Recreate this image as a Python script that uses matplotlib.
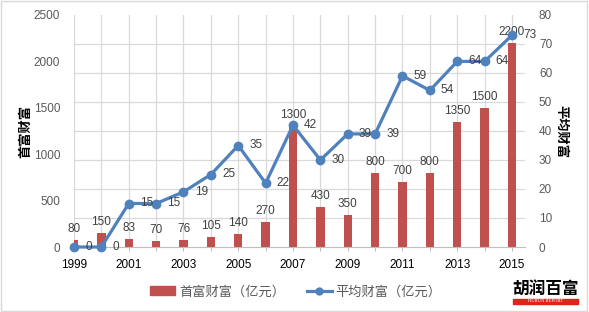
import matplotlib
matplotlib.use("Agg")
import matplotlib.pyplot as plt
from matplotlib.lines import Line2D
from matplotlib.patches import Patch, Rectangle

plt.rcParams["font.family"] = ["Liberation Sans", "Noto Sans CJK SC", "DejaVu Sans"]

# 数据 (胡润百富 1999-2015)
YEARS = list(range(1999, 2016))
TOP_WEALTH = [80, 150, 83, 70, 76, 105, 140, 270, 1300, 430, 350,
              800, 700, 800, 1350, 1500, 2200]
AVG_WEALTH = [0, 0, 15, 15, 19, 25, 35, 22, 42, 30, 39,
              39, 59, 54, 64, 64, 73]
LEFT_TICKS = [0, 500, 1000, 1500, 2000, 2500]
RIGHT_TICKS = [0, 10, 20, 30, 40, 50, 60, 70, 80]

COLOR_BAR = "#C0504D"
COLOR_LINE = "#4F81BD"
COLOR_GRID = "#D9D9D9"
COLOR_TICK = "#595959"
COLOR_LABEL = "#404040"

W, H = 589, 312
fig = plt.figure(figsize=(W / 100, H / 100), dpi=100)
ax = fig.add_axes([74 / W, 1 - 247 / H, (525 - 74) / W, (247 - 15) / H])
ax2 = ax.twinx()

# 柱: 首富财富 (左轴)
ax.bar(YEARS, TOP_WEALTH, width=0.31, color=COLOR_BAR, zorder=2)
for yr, v in zip(YEARS, TOP_WEALTH):
    ax.annotate(str(v), xy=(yr, v), xytext=(0, 3.5), textcoords="offset points",
                ha="center", va="bottom", fontsize=8.5, color=COLOR_LABEL,
                annotation_clip=False)

ax.set_xlim(1999, 2015.475)
ax.set_ylim(0, 2500)
ax.set_yticks(LEFT_TICKS)
ax.set_yticks([v * 2500 / 80 for v in RIGHT_TICKS], minor=True)
ax.tick_params(axis="y", which="both", length=0, labelsize=8.5,
               labelcolor=COLOR_TICK, pad=10)
ax.set_xticks(YEARS)
ax.set_xticklabels([str(y) if (y - 1999) % 2 == 0 else "" for y in YEARS])
ax.tick_params(axis="x", length=3, color="#BFBFBF", labelsize=8.5,
               labelcolor="black", pad=6)
ax.grid(True, which="minor", axis="y", color=COLOR_GRID, lw=0.9)
ax.grid(True, which="major", axis="x", color=COLOR_GRID, lw=0.9)
ax.set_axisbelow(True)
for side in ("top", "left", "right"):
    ax.spines[side].set_visible(False)
ax.spines["bottom"].set_color("#BFBFBF")

# 折线: 平均财富 (右轴)
ax2.plot(YEARS, AVG_WEALTH, color=COLOR_LINE, lw=2.3, marker="o",
         markersize=6, clip_on=False, zorder=3)
for yr, v in zip(YEARS, AVG_WEALTH):
    ax2.annotate(str(v), xy=(yr, v), xytext=(8, 0), textcoords="offset points",
                 ha="left", va="center", fontsize=8.5, color=COLOR_LABEL,
                 annotation_clip=False)
ax2.set_ylim(0, 80)
ax2.set_yticks(RIGHT_TICKS)
ax2.tick_params(axis="y", length=0, labelsize=8.5, labelcolor=COLOR_TICK, pad=10)
for side in ax2.spines:
    ax2.spines[side].set_visible(False)

fig.text(26 / W, 1 - 131 / H, "首富财富", rotation=90, ha="center", va="center",
         fontsize=9.5, fontweight="bold", color="black")
fig.text(561 / W, 1 - 131 / H, "平均财富", rotation=270, ha="center", va="center",
         fontsize=9.5, fontweight="bold", color="black")

handles = [Patch(color=COLOR_BAR),
           Line2D([], [], color=COLOR_LINE, lw=2.3, marker="o", markersize=5)]
fig.legend(handles, ["首富财富（亿元）", "平均财富（亿元）"], loc="center",
           bbox_to_anchor=(296 / W, 1 - 292 / H), ncol=2, frameon=False,
           fontsize=9.5, labelcolor=COLOR_TICK, handlelength=1.9,
           handleheight=0.6, handletextpad=0.3, columnspacing=1.6)

# 胡润百富 标志
fig.text(546 / W, 1 - 290 / H, "胡润百富", ha="center", va="center",
         fontsize=12, fontweight="heavy", color="black",
         family=["Noto Sans CJK SC"])
fig.add_artist(Rectangle((513 / W, 1 - 304 / H), 65 / W, 5 / H,
                         transform=fig.transFigure, color="#E2231A"))
fig.text(546 / W, 1 - 301.5 / H, "HURUN REPORT", ha="center", va="center",
         fontsize=3.3, color="white", family=["Liberation Serif"])

# 外框
fig.add_artist(Rectangle((1 / W, 1 / H), (W - 3) / W, (H - 2) / H,
                         transform=fig.transFigure, fill=False,
                         edgecolor="#D9D9D9", lw=1))

fig.savefig("out.png", dpi=100)
